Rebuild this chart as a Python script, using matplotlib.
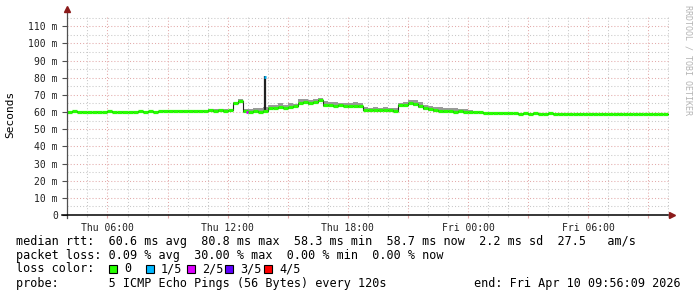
import numpy as np
import matplotlib.pyplot as plt
from matplotlib.patches import Rectangle
from matplotlib.ticker import MultipleLocator, FuncFormatter

# median rtt (ms), one value per 15 min slot starting Thu 04:00
median = [
    60.2, 60.4, 60.1, 60.3,   # 04h
    60.2, 60.0, 60.3, 60.2,   # 05h
    60.4, 60.1, 60.2, 60.3,   # 06h
    60.1, 60.3, 60.4, 60.2,   # 07h
    60.5, 60.3, 60.4, 60.6,   # 08h
    60.5, 60.7, 60.4, 60.6,   # 09h
    60.8, 60.6, 60.9, 60.7,   # 10h
    61.0, 60.8, 61.1, 60.9,   # 11h
    61.0, 65.3, 66.4, 60.4,   # 12h
    60.2, 60.5, 60.3, 60.6,   # 13h
    62.1, 62.5, 62.9, 62.6,   # 14h
    63.1, 63.3, 65.4, 65.7,   # 15h
    65.4, 65.8, 66.8, 64.3,   # 16h
    64.0, 63.8, 64.1, 63.7,   # 17h
    63.6, 63.8, 63.3, 61.3,   # 18h
    61.2, 61.4, 61.0, 61.3,   # 19h
    61.1, 60.9, 64.0, 64.3,   # 20h
    65.2, 64.8, 63.5, 62.3,   # 21h
    61.5, 61.0, 60.8, 60.5,   # 22h
    60.6, 60.2, 60.4, 60.1,   # 23h
    60.0, 59.8, 59.9, 59.6,   # Fri 00h
    59.5, 59.4, 59.6, 59.3,   # 01h
    59.2, 59.3, 59.1, 59.2,   # 02h
    59.1, 59.2, 59.0, 59.1,   # 03h
    59.2, 59.0, 59.1, 59.0,   # 04h
    59.1, 58.9, 59.0, 59.1,   # 05h
    58.9, 59.0, 58.9, 59.0,   # 06h
    58.9, 58.8, 59.0, 58.9,   # 07h
    58.8, 58.9, 58.8, 58.9,   # 08h
    58.8, 58.9, 58.8, 58.7,   # 09h
]

# smoke: spread above / below the median (ms)
smoke_up = [
    0.2, 0.1, 0.2, 0.2,  0.1, 0.2, 0.2, 0.1,  0.2, 0.2, 0.1, 0.2,
    0.2, 0.3, 0.2, 0.2,  0.3, 0.2, 0.3, 0.4,  0.5, 0.4, 0.6, 0.5,
    0.5, 0.6, 0.4, 0.6,  0.5, 0.7, 0.5, 0.6,  0.4, 0.8, 1.0, 1.4,
    1.7, 2.0, 1.8, 2.1,  2.3, 1.9, 2.2, 1.8,  2.0, 1.6, 2.0, 1.7,
    1.9, 1.6, 1.4, 2.0,  1.7, 1.9, 1.4, 1.8,  1.6, 1.8, 1.7, 1.4,
    1.4, 1.7, 1.3, 1.5,  1.2, 1.4, 1.4, 1.7,  1.8, 2.0, 2.1, 1.9,
    2.0, 2.2, 1.9, 2.1,  1.6, 1.9, 1.4, 1.5,  1.1, 0.9, 1.0, 0.7,
    0.5, 0.6, 0.4, 0.5,  0.3, 0.4, 0.2, 0.3,  0.2, 0.3, 0.2, 0.2,
    0.2, 0.2, 0.3, 0.2,  0.2, 0.2, 0.2, 0.3,  0.2, 0.2, 0.2, 0.2,
    0.2, 0.3, 0.2, 0.2,  0.2, 0.2, 0.2, 0.2,  0.2, 0.2, 0.2, 0.2,
]
smoke_dn = [
    0.1, 0.1, 0.1, 0.1,  0.1, 0.1, 0.1, 0.1,  0.1, 0.1, 0.1, 0.1,
    0.1, 0.1, 0.1, 0.1,  0.1, 0.1, 0.2, 0.1,  0.2, 0.1, 0.2, 0.2,
    0.2, 0.2, 0.2, 0.2,  0.2, 0.2, 0.2, 0.2,  0.2, 0.6, 0.7, 0.8,
    1.0, 0.9, 1.1, 1.0,  1.1, 1.0, 1.2, 1.0,  1.1, 0.9, 1.1, 1.0,
    1.0, 0.9, 1.0, 1.1,  1.0, 1.1, 0.9, 1.0,  1.0, 0.9, 1.0, 0.9,
    0.9, 1.0, 0.8, 0.9,  0.8, 0.9, 1.0, 1.1,  1.1, 1.0, 1.1, 1.0,
    0.9, 1.0, 0.8, 0.9,  0.7, 0.6, 0.7, 0.5,  0.4, 0.3, 0.3, 0.2,
    0.2, 0.2, 0.2, 0.2,  0.1, 0.1, 0.1, 0.1,  0.1, 0.1, 0.1, 0.1,
    0.1, 0.1, 0.1, 0.1,  0.1, 0.1, 0.1, 0.1,  0.1, 0.1, 0.1, 0.1,
    0.1, 0.1, 0.1, 0.1,  0.1, 0.1, 0.1, 0.1,  0.1, 0.1, 0.1, 0.1,
]

t_start = 4.0          # hours since Thu 00:00
slot = 0.25            # 15 min
spike_time = 13.87
spike_value = 80.8
loss_events = [(12.95, 60.3, 2), (13.87, 80.7, 1)]   # time, rtt, loss level

loss_colors = ['#26ff00', '#00b8ff', '#dd00ff', '#5e00ff', '#ff0000']
loss_labels = ['0', '1/5', '2/5', '3/5', '4/5']

x_labels = {6: 'Thu 06:00', 12: 'Thu 12:00', 18: 'Thu 18:00', 24: 'Fri 00:00', 30: 'Fri 06:00'}

legend_rows = [
    'median rtt:  60.6 ms avg  80.8 ms max  58.3 ms min  58.7 ms now  2.2 ms sd  27.5   am/s',
    'packet loss: 0.09 % avg  30.00 % max  0.00 % min  0.00 % now',
]
probe_text = 'probe:       5 ICMP Echo Pings (56 Bytes) every 120s'
end_text = 'end: Fri Apr 10 09:56:09 2026'

#=============================================================================================================
MONO = 'DejaVu Sans Mono'
W, H = 697, 297
fig = plt.figure(figsize=(W / 100, H / 100), dpi=100)
ax = fig.add_axes([67 / W, (H - 215) / H, 602 / W, 199 / H])

med = np.array(median)
t = t_start + slot * np.arange(len(med))

# smoke
lo = med - np.array(smoke_dn)
hi = med + np.array(smoke_up)
ax.fill_between(np.append(t, t[-1] + slot), np.append(lo, lo[-1]), np.append(hi, hi[-1]),
                step='post', color='#9a9a9a', lw=0, zorder=2)

# median line (black) + loss coloured bars
ax.step(np.append(t, t[-1] + slot), np.append(med, med[-1]), where='post',
        color='#202020', lw=0.8, zorder=3)
ax.vlines(spike_time, med[int((spike_time - t_start) / slot)], spike_value,
          color='#202020', lw=1.6, zorder=3)
ax.hlines(med, t, t + slot, color=loss_colors[0], lw=2.3, zorder=4)
for lt, lv, lvl in loss_events:
    ax.hlines(lv, lt - 0.05, lt + 0.05, color=loss_colors[lvl], lw=2.0, zorder=4)

ax.set_xlim(3.98, 34.03)
ax.set_ylim(0, 116)

ax.yaxis.set_major_locator(MultipleLocator(10))
ax.yaxis.set_minor_locator(MultipleLocator(5))
ax.xaxis.set_major_locator(MultipleLocator(3))
ax.xaxis.set_minor_locator(MultipleLocator(1))
ax.yaxis.set_major_formatter(FuncFormatter(lambda v, p: '0' if v == 0 else '%d m' % v))
ax.xaxis.set_major_formatter(FuncFormatter(lambda v, p: x_labels.get(int(round(v)), '')))

dots = (0, (1, 2))
ax.grid(which='minor', color='#c8c8c8', lw=0.75, linestyle=dots, zorder=0)
ax.grid(which='major', color='#e3aaaa', lw=0.75, linestyle=dots, zorder=1)
ax.set_axisbelow(True)

for s in ax.spines.values():
    s.set_visible(False)
ax.tick_params(axis='y', which='major', length=3.6, width=0.8, color='#505050', pad=3,
               labelsize=7, labelcolor='#202020')
ax.tick_params(axis='y', which='minor', length=0)
ax.tick_params(axis='x', which='major', length=2.5, width=0.8, color='#e3aaaa', pad=3,
               labelsize=7, labelcolor='#202020')
ax.tick_params(axis='x', which='minor', length=1.5, width=0.8, color='#c8c8c8')
for lab in ax.get_xticklabels() + ax.get_yticklabels():
    lab.set_family(MONO)

# axes with arrows
ax.plot([3.98, 3.98], [-1.5, 119.0], color='#505050', lw=0.9, clip_on=False, zorder=6)
ax.plot(3.98, 120.3, marker='^', color='#8b1a1a', ms=4.5, clip_on=False, zorder=7)
ax.plot([3.72, 34.0], [0, 0], color='black', lw=1.1, clip_on=False, zorder=6)
ax.plot(34.2, 0, marker='>', color='#8b1a1a', ms=4.5, clip_on=False, zorder=7)

fig.text(10 / W, 1 - 114 / H, 'Seconds', rotation=90, ha='center', va='center',
         size=8, family=MONO)
fig.text(688 / W, 1 - 60 / H, 'RRDTOOL / TOBI OETIKER', rotation=270, ha='center',
         va='center', size=6, family=MONO, color='#b4b4b4')

# legend block
for i, row in enumerate(legend_rows):
    fig.text(16 / W, 1 - (241 + 14 * i) / H, row, ha='left', va='center', size=8.5, family=MONO)
fig.text(16 / W, 1 - 269 / H, 'loss color:', ha='left', va='center', size=8.5, family=MONO)
box_x = [109, 146, 187, 225, 264]
for bx, col, lab in zip(box_x, loss_colors, loss_labels):
    fig.add_artist(Rectangle((bx / W, 1 - 273 / H), 8 / W, 8 / H, transform=fig.transFigure,
                             facecolor=col, edgecolor='black', lw=0.8))
    fig.text((bx + 15) / W, 1 - 269 / H, lab, ha='left', va='center', size=8.5, family=MONO)
fig.text(16 / W, 1 - 283 / H, probe_text, ha='left', va='center', size=8.5, family=MONO)
fig.text(681 / W, 1 - 283 / H, end_text, ha='right', va='center', size=8.5, family=MONO)

fig.savefig('out.png', dpi=100)
